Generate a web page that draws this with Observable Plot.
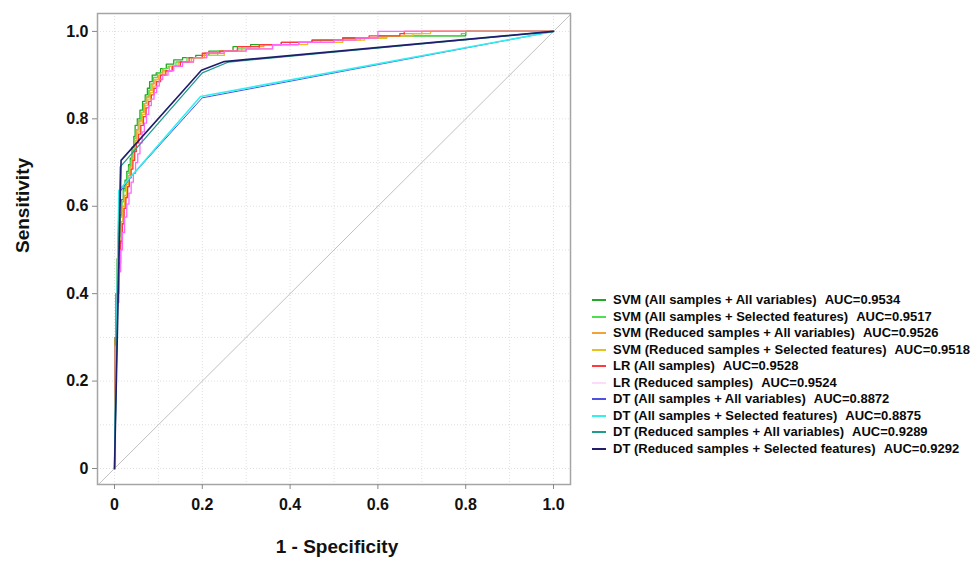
<!DOCTYPE html>
<html>
<head>
<meta charset="utf-8">
<script src="https://cdn.jsdelivr.net/npm/d3@7"></script>
<script src="https://cdn.jsdelivr.net/npm/@observablehq/plot@0.6"></script>
<style>
  html, body { margin: 0; padding: 0; background: #fff; }
  #wrap { position: relative; width: 972px; height: 564px; font-family: "Liberation Sans", Arial, sans-serif; }
  #legend { position: absolute; left: 592px; top: 292px; font-size: 13px; font-weight: bold; color: #0a0a0a; }
  .row { height: 16.5px; line-height: 16.5px; white-space: nowrap; display: flex; align-items: center; }
  .sw { display: block; width: 14px; height: 2px; margin-right: 7px; }
  .auc { margin-left: 8px; }
</style>
</head>
<body>
<div id="wrap"></div>
<script>
// ---- data ----
const seriesNames = [
  "SVM (All samples + All variables)",
  "SVM (All samples + Selected features)",
  "SVM (Reduced samples + All variables)",
  "SVM (Reduced samples + Selected features)",
  "LR (All samples)",
  "LR (Reduced samples)",
  "DT (All samples + All variables)",
  "DT (All samples + Selected features)",
  "DT (Reduced samples + All variables)",
  "DT (Reduced samples + Selected features)"
];
const aucLabels = ["AUC=0.9534","AUC=0.9517","AUC=0.9526","AUC=0.9518","AUC=0.9528","AUC=0.9524","AUC=0.8872","AUC=0.8875","AUC=0.9289","AUC=0.9292"];
const seriesColors = ["#22a822","#4ede4e","#f2a23a","#e8c21c","#ff3a3a","#ff66ff","#5050e0","#30f0f0","#1f9c8c","#1e1e6c"];
const legendSwatch = ["#22a822","#4ede4e","#f2a23a","#e8c21c","#ff3a3a","#fbdcfb","#5050e0","#30f0f0","#1f9c8c","#1e1e6c"];
const seriesWidths = [1.3, 1.3, 1.3, 1.3, 1.3, 1.3, 1.0, 1.6, 1.3, 1.6];

// ROC points [1 - specificity, sensitivity]
const svm1 = [[0,0],[0.001,0.30],[0.003,0.40],[0.006,0.48],[0.009,0.54],[0.012,0.58],[0.016,0.615],[0.020,0.64],[0.024,0.66],[0.028,0.68],[0.032,0.695],[0.036,0.71],[0.040,0.735],[0.044,0.76],[0.047,0.785],[0.052,0.80],[0.058,0.82],[0.064,0.84],[0.070,0.855],[0.075,0.87],[0.080,0.885],[0.086,0.90],[0.095,0.905],[0.105,0.915],[0.118,0.925],[0.135,0.935],[0.155,0.94],[0.185,0.945],[0.215,0.955],[0.27,0.965],[0.31,0.97],[0.38,0.975],[0.45,0.98],[0.52,0.985],[0.6,0.99],[0.8,1.0],[1,1]];
const svm2 = [[0,0],[0.001,0.28],[0.004,0.40],[0.007,0.47],[0.010,0.53],[0.013,0.575],[0.017,0.61],[0.021,0.635],[0.025,0.655],[0.029,0.675],[0.033,0.69],[0.037,0.705],[0.041,0.73],[0.045,0.755],[0.049,0.775],[0.054,0.795],[0.060,0.815],[0.066,0.835],[0.072,0.85],[0.078,0.865],[0.083,0.88],[0.089,0.895],[0.098,0.905],[0.110,0.915],[0.122,0.92],[0.140,0.93],[0.165,0.94],[0.20,0.945],[0.235,0.955],[0.28,0.96],[0.33,0.97],[0.40,0.975],[0.47,0.98],[0.55,0.985],[0.62,0.99],[0.79,0.995],[0.8,1.0],[1,1]];
const svm3 = [[0,0],[0.002,0.30],[0.005,0.40],[0.008,0.47],[0.011,0.52],[0.015,0.565],[0.019,0.60],[0.023,0.625],[0.027,0.65],[0.031,0.67],[0.035,0.69],[0.039,0.71],[0.043,0.73],[0.047,0.75],[0.051,0.775],[0.056,0.795],[0.062,0.815],[0.068,0.835],[0.074,0.85],[0.080,0.865],[0.086,0.88],[0.092,0.89],[0.100,0.90],[0.110,0.91],[0.125,0.92],[0.145,0.93],[0.175,0.94],[0.205,0.95],[0.24,0.955],[0.29,0.965],[0.34,0.97],[0.42,0.975],[0.50,0.98],[0.56,0.985],[0.61,0.99],[0.66,0.995],[0.70,1.0],[1,1]];
const svm4 = [[0,0],[0.002,0.29],[0.005,0.39],[0.009,0.46],[0.012,0.515],[0.016,0.56],[0.020,0.595],[0.024,0.62],[0.028,0.645],[0.032,0.665],[0.036,0.685],[0.040,0.705],[0.044,0.725],[0.048,0.745],[0.053,0.77],[0.058,0.79],[0.064,0.81],[0.070,0.83],[0.076,0.845],[0.082,0.86],[0.088,0.875],[0.094,0.89],[0.102,0.90],[0.115,0.91],[0.13,0.92],[0.15,0.93],[0.18,0.94],[0.21,0.945],[0.25,0.955],[0.30,0.96],[0.36,0.97],[0.44,0.975],[0.52,0.98],[0.57,0.985],[0.62,0.99],[0.68,0.995],[0.72,1.0],[1,1]];
const lr1 = [[0,0],[0.002,0.30],[0.006,0.40],[0.010,0.47],[0.014,0.52],[0.018,0.56],[0.022,0.595],[0.026,0.62],[0.030,0.645],[0.034,0.665],[0.038,0.685],[0.042,0.705],[0.046,0.725],[0.050,0.745],[0.055,0.765],[0.060,0.785],[0.066,0.805],[0.072,0.825],[0.078,0.84],[0.084,0.855],[0.090,0.87],[0.096,0.885],[0.105,0.90],[0.117,0.91],[0.132,0.92],[0.15,0.93],[0.17,0.94],[0.20,0.95],[0.24,0.955],[0.28,0.965],[0.33,0.97],[0.38,0.975],[0.45,0.98],[0.52,0.985],[0.58,0.99],[0.65,0.995],[0.66,1.0],[1,1]];
const lr2 = [[0,0],[0.002,0.28],[0.006,0.38],[0.010,0.45],[0.014,0.50],[0.018,0.54],[0.023,0.575],[0.028,0.605],[0.033,0.63],[0.038,0.655],[0.043,0.675],[0.048,0.70],[0.053,0.72],[0.058,0.745],[0.063,0.77],[0.068,0.79],[0.073,0.81],[0.078,0.83],[0.084,0.845],[0.090,0.86],[0.096,0.875],[0.102,0.89],[0.110,0.90],[0.122,0.91],[0.135,0.92],[0.155,0.93],[0.18,0.94],[0.21,0.95],[0.25,0.955],[0.30,0.96],[0.36,0.97],[0.42,0.975],[0.50,0.98],[0.55,0.985],[0.60,1.0],[1,1]];
const dt1 = [[0,0],[0.010,0.63],[0.040,0.67],[0.20,0.848],[1,1]];
const dt2 = [[0,0],[0.010,0.636],[0.196,0.851],[1,1]];
const dt3 = [[0,0],[0.013,0.69],[0.20,0.905],[0.26,0.93],[1,1]];
const dt4 = [[0,0],[0.015,0.705],[0.198,0.911],[0.25,0.931],[1,1]];

const xTicks = [0, 0.2, 0.4, 0.6, 0.8, 1.0];
const xTickLabels = ["0", "0.2", "0.4", "0.6", "0.8", "1.0"];
const yTicks = [0, 0.2, 0.4, 0.6, 0.8, 1.0];
const yTickLabels = ["0", "0.2", "0.4", "0.6", "0.8", "1.0"];
const gridTicks = [0, 0.1, 0.2, 0.3, 0.4, 0.5, 0.6, 0.7, 0.8, 0.9, 1.0];
const diagonal = [-0.1, 1.1];
const xLabel = "1 - Specificity";
const yLabel = "Sensitivity";

// ---- build ----
const curves = [svm1, svm2, svm3, svm4, lr1, lr2, dt1, dt2, dt3, dt4];
const rowsFor = i => curves[i].map(([fpr, tpr]) => ({fpr, tpr, s: seriesNames[i]}));

const fmtX = d => xTickLabels[xTicks.indexOf(d)];
const fmtY = d => yTickLabels[yTicks.indexOf(d)];

const curveMarks = curves.map((c, i) =>
  Plot.line(rowsFor(i), {x: "fpr", y: "tpr", stroke: "s", strokeWidth: seriesWidths[i], curve: i < 6 ? "step-after" : "linear"})
);

const chart = Plot.plot({
  width: 972,
  height: 564,
  marginLeft: 97,
  marginRight: 402,
  marginTop: 13,
  marginBottom: 80,
  style: {fontFamily: "'Liberation Sans', Arial, sans-serif", background: "white", color: "#111"},
  x: {domain: [-0.0387, 1.0387]},
  y: {domain: [-0.0366, 1.041]},
  color: {domain: seriesNames, range: seriesColors},
  marks: [
    Plot.gridX(gridTicks, {stroke: "#e0e0e0", strokeOpacity: 1, strokeDasharray: "1,2"}),
    Plot.gridY(gridTicks, {stroke: "#e0e0e0", strokeOpacity: 1, strokeDasharray: "1,2"}),
    Plot.line(diagonal, {x: d => d, y: d => d, stroke: "#c0c0c0", strokeWidth: 1, clip: true}),
    ...curveMarks,
    Plot.frame({stroke: "#a5a5a5", strokeWidth: 1.5}),
    Plot.axisX(xTicks, {tickFormat: fmtX, tickSize: 5, tickPadding: 9, fontSize: 16, fontWeight: "bold", label: null, stroke: "#888"}),
    Plot.axisY(yTicks, {tickFormat: fmtY, tickSize: 5, tickPadding: 4, fontSize: 16, fontWeight: "bold", label: null, stroke: "#888"}),
    Plot.text([xLabel], {frameAnchor: "bottom", dy: 68, dx: 3, fontSize: 19, fontWeight: "bold", fill: "#111"}),
    Plot.text([yLabel], {frameAnchor: "left", dx: -75, dy: 4, rotate: -90, fontSize: 19, fontWeight: "bold", fill: "#111"})
  ]
});

const wrap = document.getElementById("wrap");
wrap.appendChild(chart);

const legend = document.createElement("div");
legend.id = "legend";
seriesNames.forEach((name, i) => {
  const row = document.createElement("div");
  row.className = "row";
  const sw = document.createElement("span");
  sw.className = "sw";
  sw.style.backgroundColor = legendSwatch[i];
  const t = document.createElement("span");
  t.textContent = name;
  const a = document.createElement("span");
  a.className = "auc";
  a.textContent = aucLabels[i];
  row.append(sw, t, a);
  legend.appendChild(row);
});
wrap.appendChild(legend);
</script>
</body>
</html>
